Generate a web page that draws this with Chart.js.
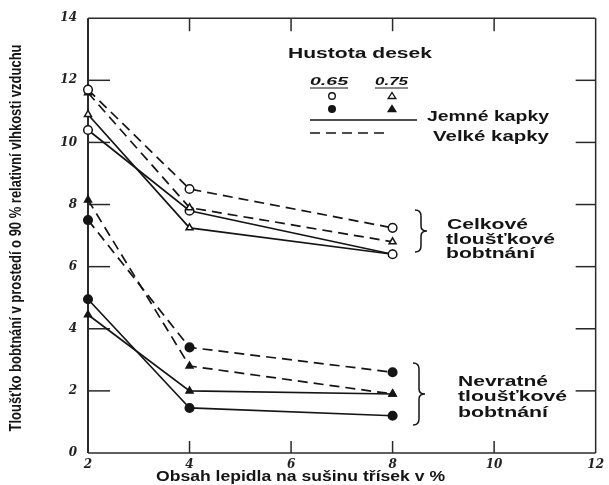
<!DOCTYPE html>
<html lang="cs">
<head>
    <meta charset="UTF-8">
    <title>Tloušťkové bobtnání</title>
    <script src="https://cdn.jsdelivr.net/npm/chart.js"></script>
    <style>
        body { margin: 0; background: #fff; }
        canvas { display: block; }
    </style>
</head>
<body>
    <canvas id="graf" width="609" height="485"></canvas>

    <script>
        // obsah lepidla (%)
        const obsahLepidla = [2, 4, 8];

        // celkové tloušťkové bobtnání
        const celkVelke065 = [11.7, 8.5, 7.25];
        const celkVelke075 = [11.6, 7.9, 6.8];
        const celkJemne065 = [10.4, 7.8, 6.4];
        const celkJemne075 = [10.9, 7.25, 6.4];

        // nevratné tloušťkové bobtnání
        const nevrVelke065 = [7.5, 3.4, 2.6];
        const nevrVelke075 = [8.15, 2.8, 1.9];
        const nevrJemne065 = [4.95, 1.45, 1.2];
        const nevrJemne075 = [4.45, 2.0, 1.9];

        const xTicks = [2, 4, 6, 8, 10, 12];
        const yTicks = [0, 2, 4, 6, 8, 10, 12, 14];

        const INK = '#151515';
        const DASH = [10, 6];

        function serie(label, values, dashed, style, filled) {
            return {
                label: label,
                data: values.map((v, i) => ({ x: obsahLepidla[i], y: v })),
                borderColor: INK,
                borderWidth: 1.7,
                borderDash: dashed ? DASH : [],
                pointStyle: style,
                pointRadius: style === 'triangle' ? 4 : 4.3,
                pointBorderWidth: 1.5,
                pointBorderColor: INK,
                pointBackgroundColor: filled ? INK : '#fff',
                tension: 0,
                clip: false
            };
        }

        // text roztažený na zadanou šířku (předloha je vodorovně natažená)
        function fitText(ctx, str, x, y, size, width, style) {
            ctx.font = (style || 'bold') + ' ' + size + 'px "Liberation Sans", Arial, sans-serif';
            const w = ctx.measureText(str).width;
            ctx.save();
            ctx.translate(x, y);
            ctx.scale(width / w, 1);
            ctx.fillText(str, 0, 0);
            ctx.restore();
        }

        function line(ctx, x1, y1, x2, y2, dash) {
            ctx.setLineDash(dash || []);
            ctx.beginPath();
            ctx.moveTo(x1, y1);
            ctx.lineTo(x2, y2);
            ctx.stroke();
            ctx.setLineDash([]);
        }

        function zavorka(ctx, x, top, bottom) {
            const mid = (top + bottom) / 2;
            ctx.beginPath();
            ctx.moveTo(x, top);
            ctx.quadraticCurveTo(x + 6, top, x + 6, top + 6);
            ctx.lineTo(x + 6, mid - 5);
            ctx.quadraticCurveTo(x + 6, mid, x + 12, mid);
            ctx.quadraticCurveTo(x + 6, mid, x + 6, mid + 5);
            ctx.lineTo(x + 6, bottom - 6);
            ctx.quadraticCurveTo(x + 6, bottom, x, bottom);
            ctx.stroke();
        }

        function znacka(ctx, x, y, style, filled) {
            ctx.beginPath();
            if (style === 'circle') {
                ctx.arc(x, y, 3.3, 0, Math.PI * 2);
            } else {
                ctx.moveTo(x, y - 3.5);
                ctx.lineTo(x + 3.8, y + 2.5);
                ctx.lineTo(x - 3.8, y + 2.5);
                ctx.closePath();
            }
            ctx.fillStyle = filled ? INK : '#fff';
            ctx.fill();
            ctx.stroke();
        }

        // rámeček a dovnitř směřující značky os
        const ramecek = {
            id: 'ramecek',
            beforeDatasetsDraw(chart) {
                const { ctx, chartArea: a, scales: { x, y } } = chart;
                ctx.save();
                ctx.strokeStyle = '#2a2a2a';
                ctx.lineWidth = 1.5;
                line(ctx, a.left, a.top, a.right, a.top);
                line(ctx, a.left, a.bottom, a.right, a.bottom);
                line(ctx, a.right, a.top, a.right, a.bottom);
                ctx.lineWidth = 2;
                line(ctx, a.left, a.top, a.left, a.bottom);
                ctx.lineWidth = 1.5;
                y.ticks.forEach(t => {
                    if (t.value === y.min || t.value === y.max) return;
                    const py = y.getPixelForValue(t.value);
                    line(ctx, a.left, py, a.left + 22, py);
                    line(ctx, a.right - 20, py, a.right, py);
                });
                x.ticks.forEach(t => {
                    if (t.value === x.min || t.value === x.max) return;
                    const px = x.getPixelForValue(t.value);
                    line(ctx, px, a.top, px, a.top + 13);
                    line(ctx, px, a.bottom, px, a.bottom - 12);
                });
                ctx.restore();
            },
            afterDraw(chart) {
                const ctx = chart.ctx;
                ctx.save();
                ctx.fillStyle = INK;
                ctx.strokeStyle = INK;
                ctx.textBaseline = 'middle';
                ctx.textAlign = 'left';

                // popisky os
                fitText(ctx, 'Obsah lepidla na sušinu třísek v %', 156, 477, 14, 289);
                ctx.save();
                ctx.translate(17, 238);
                ctx.rotate(-Math.PI / 2);
                ctx.font = 'bold 12px "Liberation Sans", Arial, sans-serif';
                const yt = 'Tloušťko bobtnání v prostedí o 90 % relativní vlhkosti vzduchu';
                const w = ctx.measureText(yt).width;
                ctx.scale(387 / w, 1.3);
                ctx.textAlign = 'center';
                ctx.fillText(yt, 0, 0);
                ctx.restore();

                // legenda
                fitText(ctx, 'Hustota desek', 288, 54, 15, 144);
                fitText(ctx, '0.65', 310, 82, 10, 38, 'italic bold');
                fitText(ctx, '0.75', 375, 82, 10, 33, 'italic bold');
                ctx.lineWidth = 1;
                line(ctx, 310, 88, 348, 88);
                line(ctx, 375, 88, 408, 88);
                ctx.lineWidth = 1.4;
                znacka(ctx, 332, 96, 'circle', false);
                znacka(ctx, 392, 96, 'triangle', false);
                znacka(ctx, 332, 109, 'circle', true);
                znacka(ctx, 392, 109, 'triangle', true);
                ctx.lineWidth = 1.6;
                line(ctx, 310, 120, 417, 120);
                line(ctx, 310, 133, 388, 133, DASH);
                ctx.fillStyle = INK;
                fitText(ctx, 'Jemné kapky', 427, 117, 15, 122);
                fitText(ctx, 'Velké kapky', 433, 137, 15, 116);

                // skupiny křivek
                ctx.lineWidth = 1.5;
                zavorka(ctx, 415, 210, 252);
                zavorka(ctx, 413, 363, 425);
                fitText(ctx, 'Celkové', 447, 225, 14.5, 81);
                fitText(ctx, 'tloušťkové', 446, 240, 14.5, 109);
                fitText(ctx, 'bobtnání', 446, 254, 14.5, 89);
                fitText(ctx, 'Nevratné', 458, 382, 14.5, 90);
                fitText(ctx, 'tloušťkové', 458, 397, 14.5, 109);
                fitText(ctx, 'bobtnání', 458, 413, 14.5, 90);
                ctx.restore();
            }
        };

        const tickFont = { family: '"DejaVu Serif", serif', size: 12, style: 'italic', weight: 'bold' };

        new Chart(document.getElementById('graf'), {
            type: 'line',
            data: {
                datasets: [
                    serie('Celkové, velké kapky, 0.65', celkVelke065, true, 'circle', false),
                    serie('Celkové, velké kapky, 0.75', celkVelke075, true, 'triangle', false),
                    serie('Celkové, jemné kapky, 0.65', celkJemne065, false, 'circle', false),
                    serie('Celkové, jemné kapky, 0.75', celkJemne075, false, 'triangle', false),
                    serie('Nevratné, velké kapky, 0.65', nevrVelke065, true, 'circle', true),
                    serie('Nevratné, velké kapky, 0.75', nevrVelke075, true, 'triangle', true),
                    serie('Nevratné, jemné kapky, 0.65', nevrJemne065, false, 'circle', true),
                    serie('Nevratné, jemné kapky, 0.75', nevrJemne075, false, 'triangle', true)
                ]
            },
            options: {
                responsive: false,
                animation: false,
                layout: { padding: { top: 15, right: 1, left: 0, bottom: 0 } },
                plugins: {
                    legend: { display: false },
                    tooltip: { enabled: false }
                },
                scales: {
                    x: {
                        type: 'linear',
                        min: 2,
                        max: 12,
                        afterBuildTicks: s => { s.ticks = xTicks.map(v => ({ value: v })); },
                        afterFit: s => { s.height = 32; },
                        grid: { display: false, drawTicks: false },
                        border: { display: false },
                        ticks: { padding: 5, color: '#222', font: tickFont, maxRotation: 0 }
                    },
                    y: {
                        min: 0,
                        max: 14,
                        afterBuildTicks: s => { s.ticks = yTicks.map(v => ({ value: v })); },
                        afterFit: s => { s.width = 88; },
                        grid: { display: false, drawTicks: false },
                        border: { display: false },
                        ticks: { padding: 11, color: '#222', font: tickFont }
                    }
                }
            },
            plugins: [ramecek]
        });
    </script>
</body>
</html>
